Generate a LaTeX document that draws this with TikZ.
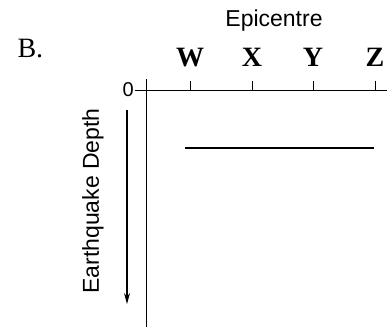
\documentclass[tikz,border=0pt]{standalone}
\usepackage{fontspec}
\setmainfont{Liberation Serif}
\setsansfont{Liberation Sans}
\usetikzlibrary{arrows.meta}
\begin{document}
\begin{tikzpicture}[x=1pt, y=-1pt]
    \tikzset{axis line/.style={line width=0.9pt},
        site label/.style={font=\fontsize{28}{28}\selectfont\bfseries, anchor=base},
        sans label/.style={font=\fontsize{23}{23}\selectfont\sffamily}}
    \useasboundingbox (0, 0) rectangle (387, 330);
    % Axes, with the depth axis starting a little above the surface.
    \coordinate (origin) at (146, 90);
    \coordinate (axis top) at (146, 79);
    \coordinate (axis bottom) at (146, 327);
    \coordinate (axis left) at (135, 90);
    \coordinate (axis right) at (387, 90);
    \draw[axis line] (axis top) -- (axis bottom);
    \draw[axis line] (axis left) -- (axis right);
    \node[font=\fontsize{20}{20}\selectfont\sffamily, anchor=east, inner sep=1pt] (zero) at (axis left) {0};
    % One tick and one letter for each epicentre.
    \foreach \name/\x in {W/190, X/252, Y/313, Z/375} {
        \coordinate (tick \name) at (\x, 90);
        \draw[axis line] (tick \name) -- ++(0, -9);
        \node[site label] (site \name) at (\x, 66) {\name};
    }
    \node[sans label] (epicentre) at (274, 21) {Epicentre};
    \node[font=\fontsize{28}{28}\selectfont, anchor=base west] (part) at (14, 57) {B.};
    % Depth arrow and its label.
    \coordinate (depth start) at (127, 110);
    \coordinate (depth end) at (127, 304);
    \draw[line width=1.3pt, -{Stealth[length=11pt, width=6pt]}] (depth start) -- (depth end);
    \node[sans label, rotate=90] (depth) at (93, 201) {Earthquake Depth};
    % The measured depth line.
    \coordinate (line start) at (185, 148);
    \coordinate (line end) at (374, 148);
    \draw[line width=2pt] (line start) -- (line end);
\end{tikzpicture}
\end{document}
